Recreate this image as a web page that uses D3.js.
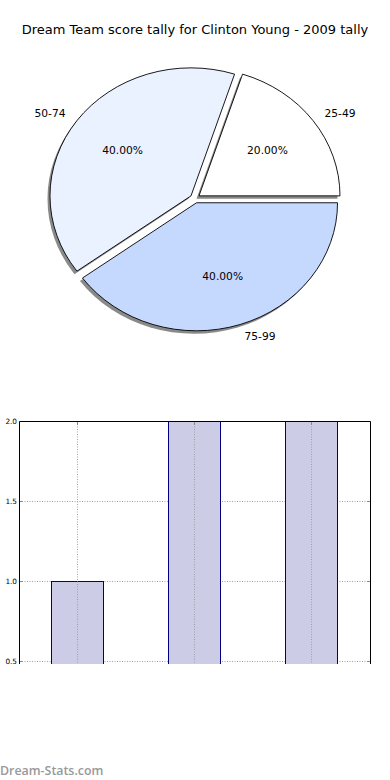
<!DOCTYPE html>
<html><head><meta charset="utf-8">
<script src="https://cdn.jsdelivr.net/npm/d3@7"></script>
<style>body{margin:0;background:#fff}svg{display:block}</style>
</head><body>
<script>
const title = "Dream Team score tally for Clinton Young - 2009 tally";
const pieLabels = ["25-49", "50-74", "75-99"];
const pieValues = [1, 2, 2];
const pieColors = ["#ffffff", "#eaf1ff", "#c5d9ff"];
const barCategories = ["25-49", "50-74", "75-99"];
const barValues = [1, 2, 2];
const yTicks = [0.5, 1.0, 1.5, 2.0];
const watermark = "Dream-Stats.com";

const W = 390, H = 780;
const svg = d3.select("body").append("svg").attr("width", W).attr("height", H);

svg.append("text").attr("x", 195).attr("y", 34).attr("text-anchor", "middle")
  .style("font-family", "DejaVu Sans").style("font-size", "13px").attr("fill", "#000").text(title);

// ---- Pie ----
const cx = 195, cy = 198.5, rx = 141, ry = 128, explode = 0.035;
const pie = d3.pie().sort(null).startAngle(Math.PI / 2).endAngle(Math.PI / 2 - 2 * Math.PI);
const arcs = pie(pieValues);
const arc = d3.arc().innerRadius(0).outerRadius(1);
const total = d3.sum(pieValues);
const g = svg.append("g");
arcs.forEach((a, i) => {
  const m = (a.startAngle + a.endAngle) / 2;
  const ux = Math.sin(m), uy = -Math.cos(m);
  const ox = cx + explode * rx * ux, oy = cy + explode * ry * uy;
  g.append("path").attr("d", arc(a))
    .attr("transform", `translate(${ox - 2.5},${oy + 3}) scale(${rx},${ry})`)
    .attr("fill", "#8a8a8a").attr("stroke", "none");
});
arcs.forEach((a, i) => {
  const m = (a.startAngle + a.endAngle) / 2;
  const ux = Math.sin(m), uy = -Math.cos(m);
  const ox = cx + explode * rx * ux, oy = cy + explode * ry * uy;
  g.append("path").attr("d", arc(a))
    .attr("transform", `translate(${ox},${oy}) scale(${rx},${ry})`)
    .attr("fill", pieColors[i]).attr("stroke", "#000").attr("stroke-width", 0.9)
    .attr("vector-effect", "non-scaling-stroke").attr("stroke-linejoin", "round");
  const lx = ox + 1.1 * rx * ux, ly = oy + 1.1 * ry * uy;
  g.append("text").attr("x", lx).attr("y", ly).attr("dy", "0.35em")
    .attr("text-anchor", ux > 0 ? "start" : "end")
    .style("font-family", "DejaVu Sans").style("font-size", "10.7px").text(pieLabels[i]);
  const px = ox + 0.6 * rx * ux, py = oy + 0.6 * ry * uy;
  g.append("text").attr("x", px).attr("y", py).attr("dy", "0.35em")
    .attr("text-anchor", "middle")
    .style("font-family", "DejaVu Sans").style("font-size", "10.7px")
    .text((100 * a.data / total).toFixed(2) + "%");
});

// ---- Bar chart ----
const L = 19.5, R = 370.5, T = 421.5, B = 664;
const x = d3.scaleBand().domain(barCategories).range([L, R]);
const y = d3.scaleLinear().domain([0.5, 2.0]).range([661.5, 421.5]);
const bw = 52;
const xc = c => Math.round(x(c) + x.bandwidth() / 2) - 0.5;
svg.append("defs").append("clipPath").attr("id", "clip")
  .append("rect").attr("x", L).attr("y", T - 1).attr("width", R - L).attr("height", B - T + 1);
const pg = svg.append("g").attr("clip-path", "url(#clip)");
// grid
pg.selectAll(".gy").data(yTicks).join("line")
  .attr("x1", L).attr("x2", R).attr("y1", d => y(d)).attr("y2", d => y(d))
  .attr("stroke", "#a0a0a0").attr("stroke-dasharray", "1,1.5");
// bars
pg.selectAll(".bar").data(barValues).join("rect")
  .attr("x", (d, i) => Math.floor(x(barCategories[i]) + x.bandwidth() / 2 - bw / 2) - 0.5)
  .attr("width", bw)
  .attr("y", d => y(d)).attr("height", d => y(0) - y(d))
  .attr("fill", "#ccccE6").attr("stroke", "#000080").attr("stroke-width", 1);
pg.selectAll(".gx").data(barCategories).join("line")
  .attr("x1", d => xc(d)).attr("x2", d => xc(d))
  .attr("y1", T).attr("y2", B)
  .attr("stroke", "#a0a0a0").attr("stroke-dasharray", "1,1.5");
// inner ticks
yTicks.forEach(t => {
  pg.append("line").attr("x1", R - 3.5).attr("x2", R).attr("y1", y(t)).attr("y2", y(t)).attr("stroke", "#888");
  pg.append("line").attr("x1", L).attr("x2", L + 3.5).attr("y1", y(t)).attr("y2", y(t)).attr("stroke", "#888");
});
barCategories.forEach(c => {
  pg.append("line").attr("x1", xc(c)).attr("x2", xc(c)).attr("y1", T).attr("y2", T + 3.5).attr("stroke", "#888");
});
// spines
svg.append("path").attr("d", `M${L},${B}V${T}H${R}V${B}`).attr("fill", "none").attr("stroke", "#000").attr("stroke-width", 1);
// tick labels
svg.selectAll(".yl").data(yTicks).join("text")
  .attr("x", L - 2.5).attr("y", d => y(d)).attr("dy", "0.35em").attr("text-anchor", "end")
  .style("font-family", "DejaVu Sans").style("font-size", "7.3px").text(d => d.toFixed(1));

// watermark
svg.append("text").attr("x", 0).attr("y", 775)
  .style("font-family", "Open Sans").style("font-weight", "600").style("font-size", "12.4px")
  .attr("fill", "#999").text(watermark);
</script>
</body></html>
